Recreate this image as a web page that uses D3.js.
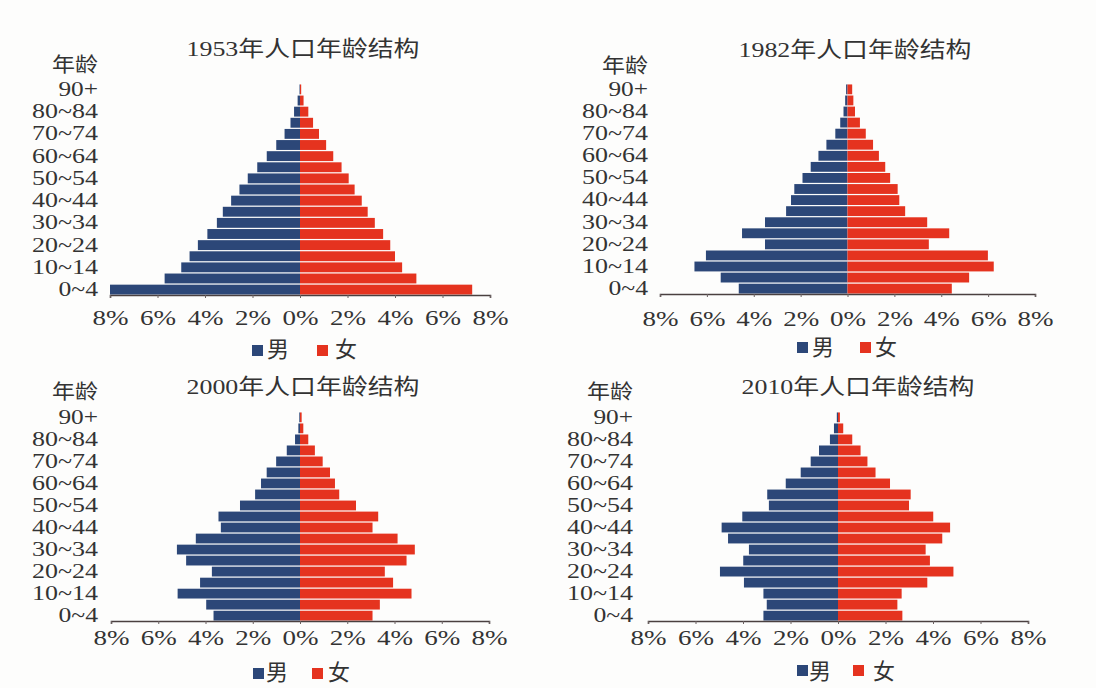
<!DOCTYPE html>
<html>
<head>
<meta charset="utf-8">
<script src="https://cdn.jsdelivr.net/npm/d3@7"></script>
<style>
  body { margin: 0; background: #ffffff; }
  svg text { font-family: "Liberation Serif", "Noto Sans CJK SC", serif; fill: #333; }
</style>
</head>
<body>
<svg id="chart" width="1096" height="688"></svg>
<script>
// ---------- data ----------
const ageGroups = ["0~4","5~9","10~14","15~19","20~24","25~29","30~34","35~39","40~44","45~49",
                   "50~54","55~59","60~64","65~69","70~74","75~79","80~84","85~89","90+"];
const tickValues = [-8, -6, -4, -2, 0, 2, 4, 6, 8];
const years = ["1953", "1982", "2000", "2010"];
const seriesNames = ["男", "女"];
const yAxisTitle = "年龄";
const titleSuffix = "年人口年龄结构";

const male1953   = [8.0, 5.7, 5.0, 4.65, 4.3, 3.9, 3.5, 3.25, 2.9, 2.55, 2.2, 1.8, 1.4, 1.0, 0.65, 0.4, 0.25, 0.1, 0.02];
const female1953 = [7.25, 4.9, 4.3, 4.0, 3.8, 3.5, 3.15, 2.85, 2.6, 2.3, 2.05, 1.75, 1.4, 1.1, 0.8, 0.55, 0.35, 0.15, 0.05];
const male1982   = [4.64, 5.41, 6.53, 6.04, 3.52, 4.5, 3.52, 2.62, 2.41, 2.27, 1.92, 1.57, 1.24, 0.9, 0.52, 0.31, 0.17, 0.1, 0.06];
const female1982 = [4.45, 5.19, 6.24, 5.99, 3.47, 4.34, 3.4, 2.46, 2.21, 2.14, 1.82, 1.61, 1.34, 1.09, 0.78, 0.53, 0.32, 0.25, 0.2];
const male2000   = [3.66, 3.97, 5.18, 4.23, 3.73, 4.82, 5.21, 4.41, 3.35, 3.45, 2.54, 1.9, 1.65, 1.41, 1.01, 0.56, 0.21, 0.07, 0.03];
const female2000 = [3.07, 3.38, 4.72, 3.94, 3.59, 4.51, 4.86, 4.13, 3.07, 3.31, 2.37, 1.66, 1.48, 1.27, 0.96, 0.63, 0.35, 0.14, 0.07];
const male2010   = [3.14, 3.0, 3.14, 3.96, 4.97, 3.99, 3.75, 4.63, 4.9, 4.03, 2.91, 2.98, 2.2, 1.57, 1.15, 0.8, 0.34, 0.17, 0.05];
const female2010 = [2.71, 2.5, 2.68, 3.76, 4.86, 3.87, 3.69, 4.39, 4.72, 4.01, 2.99, 3.06, 2.19, 1.58, 1.24, 0.95, 0.6, 0.22, 0.08];

const colors = ["#2c4778", "#e5331f"];

// ---------- layout (positions only) ----------
const layouts = [
  { male: male1953, female: female1953, left: 110, right: 490, top: 84, bottom: 295, labelX: 98,
    titleX: 303, titleY: 56, yTitleY: 72, tickBase: 325, legY: 345, legX: [252, 267, 317, 335], legBase: 357 },
  { male: male1982, female: female1982, left: 660, right: 1035, top: 84, bottom: 294, labelX: 648,
    titleX: 855, titleY: 57, yTitleY: 73, tickBase: 326, legY: 342, legX: [797, 812, 860, 875], legBase: 355 },
  { male: male2000, female: female2000, left: 111, right: 489, top: 412, bottom: 621, labelX: 98,
    titleX: 303, titleY: 394, yTitleY: 399, tickBase: 645, legY: 668, legX: [253, 266, 312, 328], legBase: 680 },
  { male: male2010, female: female2010, left: 648, right: 1028, top: 412, bottom: 621, labelX: 633,
    titleX: 858, titleY: 394, yTitleY: 399, tickBase: 645, legY: 665, legX: [797, 809, 853, 873], legBase: 679 }
];

const svg = d3.select("#chart");
svg.append("rect").attr("width", 1096).attr("height", 688).attr("fill", "#fdfdfc");

layouts.forEach((p, i) => {
  const g = svg.append("g");
  const x = d3.scaleLinear().domain([-8, 8]).range([p.left, p.right]);
  const y = d3.scaleBand().domain(ageGroups).range([p.bottom, p.top]).paddingInner(0.11).paddingOuter(0.04);

  // title
  g.append("text")
    .attr("x", p.titleX).attr("y", p.titleY)
    .attr("text-anchor", "middle")
    .attr("font-size", 22)
    .attr("textLength", 233).attr("lengthAdjust", "spacingAndGlyphs")
    .text(years[i] + titleSuffix);

  // y axis title
  g.append("text")
    .attr("x", p.labelX).attr("y", p.yTitleY)
    .attr("text-anchor", "end")
    .attr("font-size", 20)
    .attr("textLength", 46).attr("lengthAdjust", "spacingAndGlyphs")
    .text(yAxisTitle);

  // bars
  const rows = ageGroups.map((a, k) => ({ age: a, m: p.male[k], f: p.female[k] }));
  g.selectAll("rect.male").data(rows).join("rect")
    .attr("class", "male")
    .attr("x", d => x(-d.m)).attr("width", d => x(0) - x(-d.m))
    .attr("y", d => y(d.age)).attr("height", y.bandwidth())
    .attr("fill", colors[0]);
  g.selectAll("rect.female").data(rows).join("rect")
    .attr("class", "female")
    .attr("x", x(0)).attr("width", d => x(d.f) - x(0))
    .attr("y", d => y(d.age)).attr("height", y.bandwidth())
    .attr("fill", colors[1]);

  // age labels (every other group)
  const yAxis = d3.axisLeft(y)
    .tickValues(ageGroups.filter((a, k) => k % 2 === 0))
    .tickSize(0).tickPadding(0);
  const ya = g.append("g").attr("transform", `translate(${p.labelX},0)`).call(yAxis);
  ya.select(".domain").remove();
  ya.selectAll("text")
    .attr("font-size", 20)
    .attr("fill", "#333")
    .attr("textLength", d => d.length * 13.2)
    .attr("lengthAdjust", "spacingAndGlyphs");

  // x axis
  const xAxis = d3.axisBottom(x).tickValues(tickValues)
    .tickFormat(d => Math.abs(d) + "%").tickSize(3).tickPadding(0);
  const xa = g.append("g").attr("transform", `translate(0,${p.bottom})`).call(xAxis);
  xa.select(".domain").attr("stroke", "#4a4040").attr("stroke-width", 1.6);
  xa.selectAll(".tick line").attr("stroke", "#6a6060");
  xa.selectAll("text")
    .attr("font-size", 21)
    .attr("fill", "#333")
    .attr("dy", null)
    .attr("y", p.tickBase - p.bottom)
    .attr("textLength", 36)
    .attr("lengthAdjust", "spacingAndGlyphs");

  // legend
  const lg = g.append("g");
  seriesNames.forEach((name, s) => {
    lg.append("rect")
      .attr("x", p.legX[s * 2]).attr("y", p.legY)
      .attr("width", 11).attr("height", 11)
      .attr("fill", colors[s]);
    lg.append("text")
      .attr("x", p.legX[s * 2 + 1]).attr("y", p.legBase)
      .attr("font-size", 22)
      .text(name);
  });
});
</script>
</body>
</html>
